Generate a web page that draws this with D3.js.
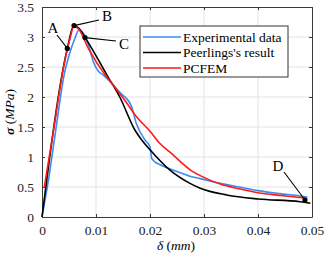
<!DOCTYPE html>
<html>
<head>
<meta charset="utf-8">
<script src="https://cdn.jsdelivr.net/npm/d3@7"></script>
</head>
<body style="margin:0;background:#fff">
<div id="chart"></div>
<script>
// data (delta in mm, sigma in MPa)
const experimental = [
  [0, 0], [0.0012, 0.62], [0.0025, 1.42], [0.0041, 2.37], [0.0052, 2.75], [0.0061, 2.98],
  [0.00685, 3.12], [0.00765, 3.06], [0.00858, 2.87], [0.0095, 2.59], [0.01043, 2.43],
  [0.0113, 2.37], [0.012, 2.31], [0.0129, 2.23], [0.0145, 2.07], [0.0157, 1.97],
  [0.0165, 1.86], [0.0175, 1.55], [0.0191, 1.28], [0.02, 1.17], [0.0203, 0.98],
  [0.0209, 0.92], [0.0219, 0.87], [0.0246, 0.77], [0.0274, 0.68], [0.0293, 0.64],
  [0.033, 0.56], [0.0365, 0.5], [0.04, 0.44], [0.044, 0.39], [0.0478, 0.35], [0.0492, 0.33]
];
const peerlings = [
  [0, 0], [0.0047, 2.81], [0.0059, 3.19], [0.0068, 3.15], [0.008, 2.99], [0.012, 2.37],
  [0.0144, 2.0], [0.0172, 1.45], [0.0185, 1.28], [0.02, 1.12], [0.0237, 0.78],
  [0.0274, 0.56], [0.0293, 0.48], [0.0342, 0.367], [0.04, 0.3], [0.0478, 0.255], [0.0497, 0.228]
];
const pcfem = [
  [0.0004, 0.48], [0.0022, 1.48], [0.004, 2.5], [0.0052, 2.98], [0.0059, 3.18], [0.0068, 3.13],
  [0.00858, 2.81], [0.01167, 2.37], [0.0129, 2.23], [0.0157, 1.9], [0.0175, 1.67],
  [0.02, 1.43], [0.0219, 1.22], [0.0237, 1.08], [0.0277, 0.77], [0.0293, 0.69],
  [0.033, 0.55], [0.0365, 0.47], [0.04, 0.405], [0.044, 0.36], [0.0478, 0.325], [0.0489, 0.31]
];
const markers = [
  { name: "A", pt: [0.00469, 2.81], label: [53, 28], from: [57, 35] },
  { name: "B", pt: [0.00593, 3.19], label: [107, 16], from: [99, 20] },
  { name: "C", pt: [0.00796, 2.99], label: [124, 44], from: [116, 41] },
  { name: "D", pt: [0.0487, 0.283], label: [278, 166], from: [284, 172] }
];
const xTicks = [0, 0.01, 0.02, 0.03, 0.04, 0.05];
const xTickLabels = ["0", "0.01", "0.02", "0.03", "0.04", "0.05"];
const yTicks = [0, 0.5, 1, 1.5, 2, 2.5, 3, 3.5];
const yTickLabels = ["0", "0.5", "1", "1.5", "2", "2.5", "3", "3.5"];
const seriesNames = ["Experimental data", "Peerlings's result", "PCFEM"];
const seriesColors = ["#3d8bf2", "#000000", "#ff1a1a"];

const FONT = "Liberation Serif";
const W = 324, H = 257;
const margin = { top: 7, right: 12, bottom: 40, left: 42 };
const width = W - margin.left - margin.right;
const height = H - margin.top - margin.bottom;

const x = d3.scaleLinear().domain([0, 0.05]).range([0, width]);
const y = d3.scaleLinear().domain([0, 3.5]).range([height, 0]);

const root = d3.select("#chart").append("svg").attr("width", W).attr("height", H)
  .attr("font-family", FONT).style("display", "block");
const svg = root.append("g").attr("transform", `translate(${margin.left},${margin.top})`);

// grid
svg.append("g").selectAll("line").data(xTicks.slice(1, -1)).enter().append("line")
  .attr("x1", d => x(d)).attr("x2", d => x(d)).attr("y1", 0).attr("y2", height)
  .attr("stroke", "#e3e3e3").attr("stroke-width", 1);
svg.append("g").selectAll("line").data(yTicks.slice(1, -1)).enter().append("line")
  .attr("y1", d => y(d)).attr("y2", d => y(d)).attr("x1", 0).attr("x2", width)
  .attr("stroke", "#e3e3e3").attr("stroke-width", 1);

// axes
const xAxis = d3.axisBottom(x).tickValues(xTicks).tickSizeInner(-3).tickSizeOuter(0)
  .tickPadding(8).tickFormat((d, i) => xTickLabels[i]);
const yAxis = d3.axisLeft(y).tickValues(yTicks).tickSizeInner(-3).tickSizeOuter(0)
  .tickPadding(8).tickFormat((d, i) => yTickLabels[i]);
const gx = svg.append("g").attr("transform", `translate(0,${height})`).call(xAxis);
const gy = svg.append("g").call(yAxis);
svg.append("g").call(d3.axisTop(x).tickValues(xTicks).tickSizeInner(-3).tickSizeOuter(0).tickFormat(""));
svg.append("g").attr("transform", `translate(${width},0)`)
  .call(d3.axisRight(y).tickValues(yTicks).tickSizeInner(-3).tickSizeOuter(0).tickFormat(""));
svg.selectAll(".domain").attr("stroke", "#3a3a3a");
svg.selectAll(".tick line").attr("stroke", "#3a3a3a");
[gx, gy].forEach(g => g.selectAll("text")
  .attr("font-family", FONT).attr("font-size", 13.5).attr("fill", "#222"));

// curves
const smooth = d3.line().x(d => x(d[0])).y(d => y(d[1])).curve(d3.curveMonotoneX);
svg.append("path").datum(experimental).attr("d", smooth)
  .attr("fill", "none").attr("stroke", seriesColors[0]).attr("stroke-width", 1.6);
svg.append("path").datum(peerlings).attr("d", smooth)
  .attr("fill", "none").attr("stroke", seriesColors[1]).attr("stroke-width", 1.6);
svg.append("path").datum(pcfem).attr("d", smooth)
  .attr("fill", "none").attr("stroke", seriesColors[2]).attr("stroke-width", 1.6);

// point markers
markers.forEach(m => {
  svg.append("line")
    .attr("x1", m.from[0] - margin.left).attr("y1", m.from[1] - margin.top)
    .attr("x2", x(m.pt[0])).attr("y2", y(m.pt[1]))
    .attr("stroke", "#000").attr("stroke-width", 1.1);
  svg.append("circle").attr("cx", x(m.pt[0])).attr("cy", y(m.pt[1])).attr("r", 2.6).attr("fill", "#000");
  svg.append("text").attr("x", m.label[0] - margin.left).attr("y", m.label[1] - margin.top)
    .attr("text-anchor", "middle").attr("dominant-baseline", "central")
    .attr("font-family", FONT).attr("font-size", 15).text(m.name);
});

// legend
const lg = root.append("g").attr("transform", "translate(140,26)");
lg.append("rect").attr("width", 148).attr("height", 51)
  .attr("fill", "#fff").attr("stroke", "#333").attr("stroke-width", 1);
seriesNames.forEach((name, i) => {
  const yy = 11 + i * 15.5;
  lg.append("line").attr("x1", 3).attr("x2", 41).attr("y1", yy).attr("y2", yy)
    .attr("stroke", seriesColors[i]).attr("stroke-width", 1.6);
  lg.append("text").attr("x", 43).attr("y", yy).attr("dominant-baseline", "central")
    .attr("font-family", FONT).attr("font-size", 13.5).text(name);
});

// axis labels
root.append("text").attr("x", 176).attr("y", 250).attr("text-anchor", "middle")
  .attr("font-family", FONT).attr("font-size", 13.5)
  .html('<tspan font-style="italic">δ</tspan> (<tspan font-style="italic">mm</tspan>)');
root.append("text").attr("transform", "translate(14,112) rotate(-90)").attr("text-anchor", "middle")
  .attr("font-family", FONT).attr("font-size", 13.5)
  .html('<tspan font-style="italic" font-weight="bold">σ</tspan> (<tspan font-style="italic">MPa</tspan>)');
</script>
</body>
</html>
